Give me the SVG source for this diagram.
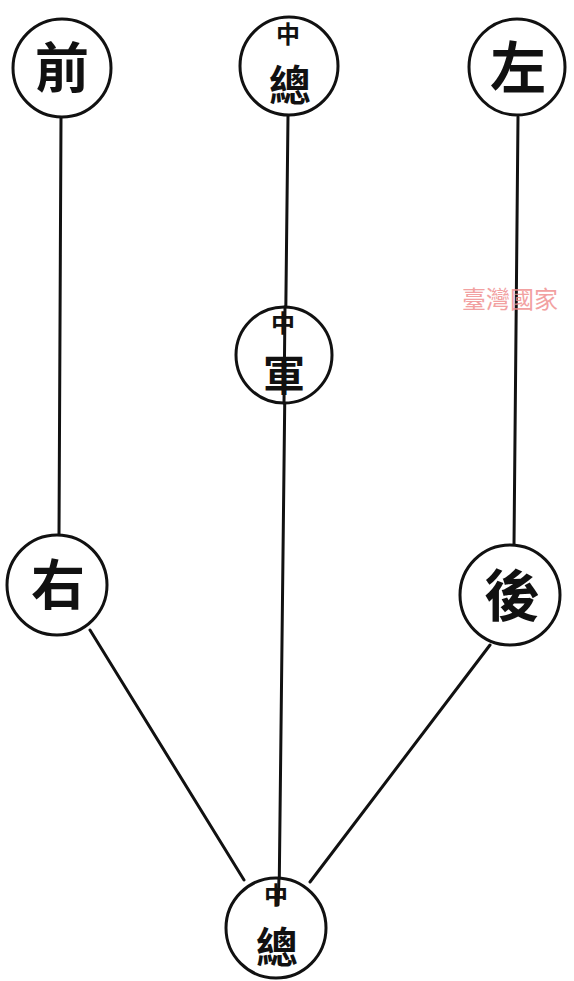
<svg xmlns="http://www.w3.org/2000/svg" width="574" height="981" viewBox="0 0 574 981">
<style>
.c{fill:#fff;stroke:#111;stroke-width:3}
.l{stroke:#111;stroke-width:3;fill:none;stroke-linecap:round}
.t{font-family:"Noto Sans CJK TC","Noto Sans CJK SC",sans-serif;font-weight:bold;fill:#111;text-anchor:middle}
.wm{font-family:"Noto Sans CJK TC","Noto Sans CJK SC",serif;fill:#f08a8a;opacity:0.8}
</style>
<rect width="574" height="981" fill="#fff"/>
<g id="connectors">
<line class="l" x1="61" y1="118" x2="59" y2="535"/>
<line class="l" x1="288" y1="116" x2="279" y2="905"/>
<line class="l" x1="518" y1="117" x2="514" y2="545"/>
<line class="l" x1="90" y1="630" x2="244" y2="880"/>
<line class="l" x1="490" y1="645" x2="310" y2="882"/>
</g>
<g id="n-qian">
<circle class="c" cx="62" cy="68" r="49"/>
<text class="t" x="62" y="88" font-size="54">前</text>
</g>
<g id="n-zhongzong-top">
<circle class="c" cx="289" cy="66" r="49"/>
<text class="t" x="288" y="43" font-size="24">中</text>
<text class="t" x="290" y="101" font-size="42">總</text>
</g>
<g id="n-zuo">
<circle class="c" cx="517" cy="67" r="48"/>
<text class="t" x="518" y="88" font-size="56">左</text>
</g>
<g id="n-zhongjun">
<circle class="c" cx="284" cy="355" r="48"/>
<line class="l" x1="285" y1="307" x2="284" y2="403"/>
<text class="t" x="283" y="332" font-size="24">中</text>
<text class="t" x="284" y="391" font-size="42">軍</text>
</g>
<g id="n-you">
<circle class="c" cx="57" cy="585" r="50"/>
<text class="t" x="58" y="605" font-size="54">右</text>
</g>
<g id="n-hou">
<circle class="c" cx="510" cy="595" r="50"/>
<text class="t" x="512" y="616" font-size="56">後</text>
</g>
<g id="n-zhongzong-bottom">
<circle class="c" cx="276" cy="928" r="50"/>
<line class="l" x1="279" y1="878" x2="278" y2="905"/>
<text class="t" x="276" y="904" font-size="24">中</text>
<text class="t" x="277" y="963" font-size="42">總</text>
</g>
<text class="wm" x="462" y="308" font-size="24">臺灣國家</text>
</svg>
